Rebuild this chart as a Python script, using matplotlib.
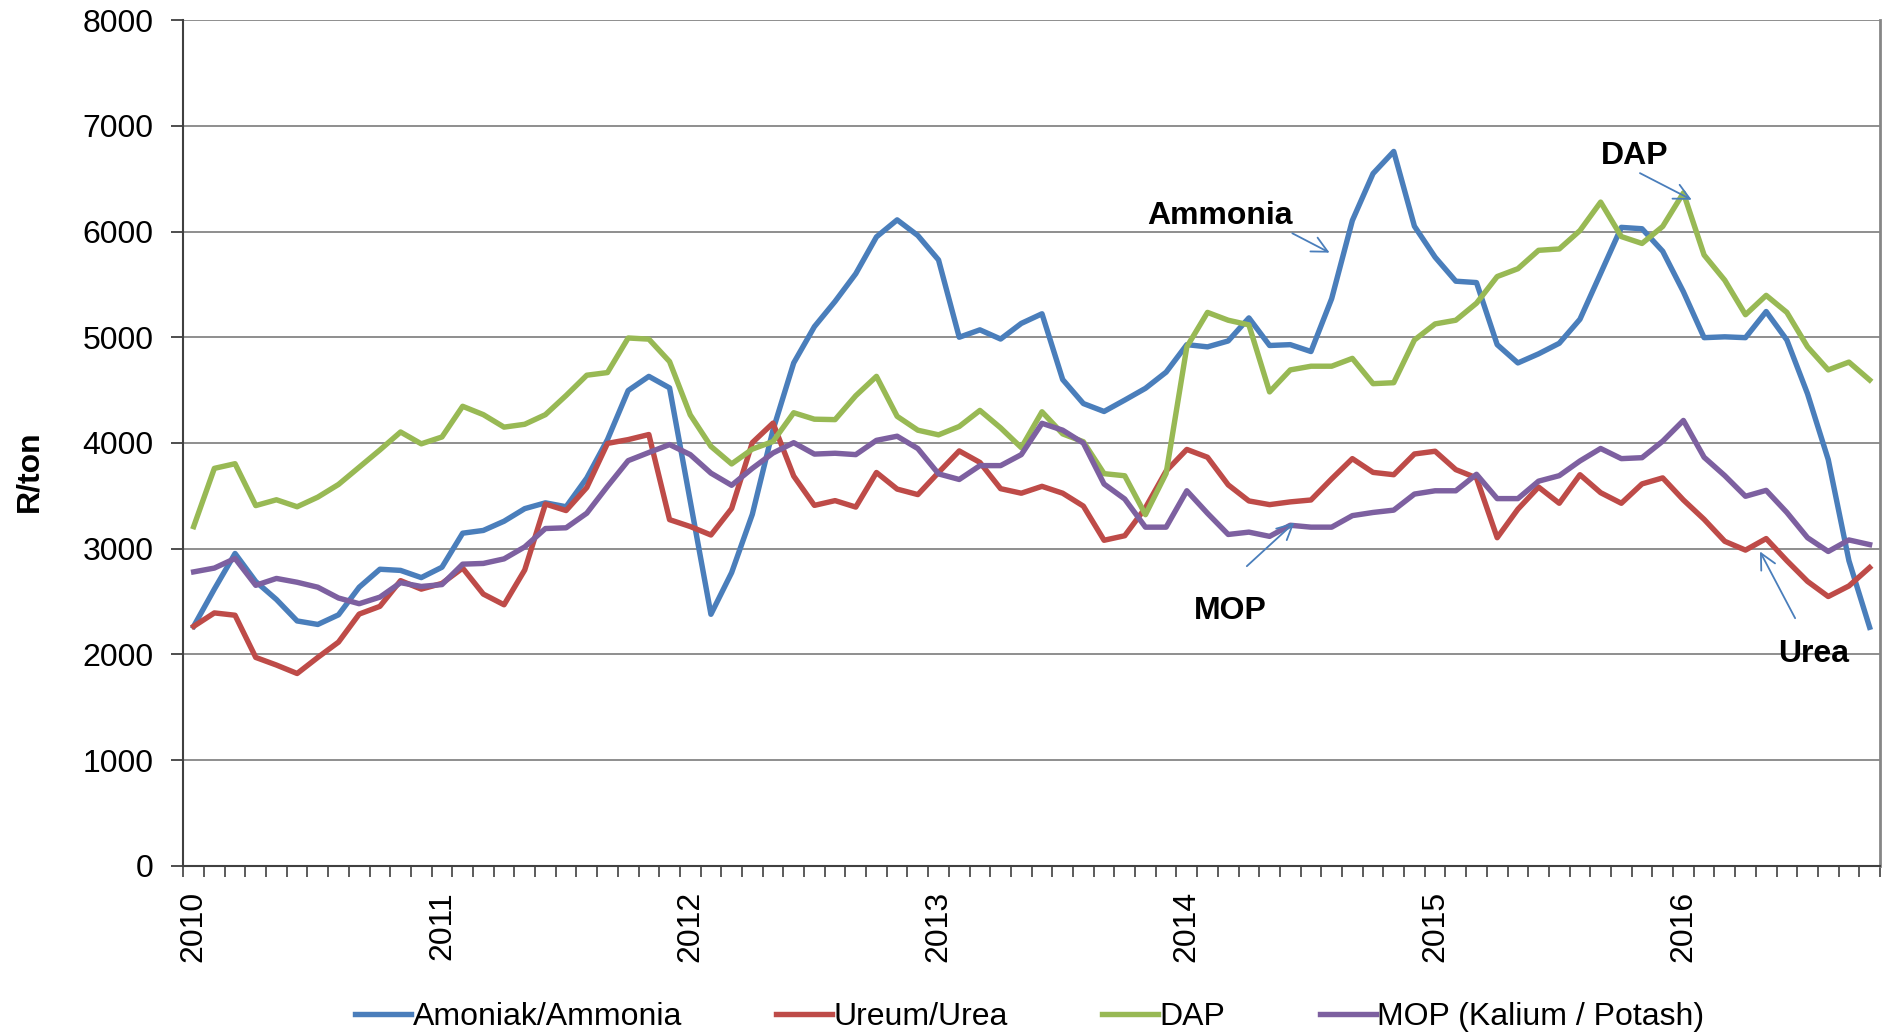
import numpy as np
import matplotlib.pyplot as plt

plt.rcParams['font.family'] = ['Liberation Sans', 'DejaVu Sans']

# monthly prices, Jan 2010 - Oct 2016 (R/ton)
ammonia = [2266, 2618, 2955, 2690, 2520, 2317, 2284, 2375, 2636, 2806, 2795, 2727,
           2825, 3147, 3173, 3260, 3379, 3434, 3397, 3669, 4032, 4496, 4630, 4521,
           3450, 2380, 2774, 3325, 4123, 4757, 5100, 5339, 5601, 5949, 6110, 5962,
           5731, 5000, 5070, 4983, 5131, 5222, 4600, 4373, 4298, 4406, 4517, 4670,
           4930, 4909, 4965, 5183, 4922, 4930, 4865, 5365, 6104, 6548, 6757, 6050,
           5757, 5530, 5517, 4930, 4757, 4843, 4943, 5170, 5604, 6039, 6026, 5813,
           5430, 4996, 5004, 4996, 5243, 4974, 4465, 3843, 2887, 2257]
urea = [2266, 2393, 2371, 1972, 1900, 1820, 1972, 2117, 2382, 2455, 2698, 2618,
        2672, 2817, 2571, 2470, 2799, 3423, 3361, 3579, 3996, 4032, 4080, 3275,
        3210, 3130, 3380, 4003, 4188, 3687, 3410, 3455, 3394, 3721, 3564, 3512,
        3721, 3925, 3816, 3568, 3525, 3590, 3525, 3403, 3080, 3123, 3387, 3735,
        3939, 3865, 3604, 3452, 3417, 3443, 3461, 3661, 3852, 3722, 3700, 3896,
        3922, 3748, 3670, 3104, 3374, 3583, 3430, 3700, 3530, 3430, 3613, 3670,
        3461, 3278, 3070, 2987, 3096, 2887, 2691, 2548, 2648, 2822]
dap = [3209, 3760, 3804, 3408, 3463, 3397, 3488, 3608, 3771, 3934, 4104, 3992,
       4057, 4347, 4268, 4150, 4177, 4268, 4449, 4641, 4666, 4993, 4982, 4770,
       4266, 3968, 3802, 3942, 4014, 4286, 4225, 4221, 4447, 4630, 4252, 4121,
       4077, 4156, 4308, 4143, 3956, 4295, 4086, 4012, 3710, 3690, 3322, 3713,
       4909, 5235, 5161, 5117, 4483, 4691, 4726, 4726, 4800, 4561, 4570, 4974,
       5126, 5161, 5322, 5574, 5648, 5822, 5835, 6009, 6278, 5952, 5887, 6048,
       6365, 5778, 5539, 5213, 5396, 5235, 4909, 4691, 4765, 4596]
mop = [2781, 2817, 2908, 2654, 2719, 2683, 2636, 2534, 2480, 2542, 2679, 2643,
       2661, 2854, 2861, 2904, 3017, 3191, 3198, 3336, 3590, 3833, 3910, 3985,
       3890, 3715, 3600, 3760, 3905, 4003, 3895, 3903, 3890, 4025, 4064, 3947,
       3708, 3655, 3786, 3786, 3890, 4186, 4121, 3999, 3612, 3470, 3204, 3204,
       3548, 3335, 3135, 3157, 3117, 3222, 3204, 3204, 3313, 3343, 3365, 3517,
       3548, 3548, 3704, 3474, 3474, 3639, 3691, 3830, 3948, 3852, 3861, 4017,
       4213, 3865, 3691, 3496, 3552, 3343, 3104, 2974, 3083, 3039]

years = ['2010', '2011', '2012', '2013', '2014', '2015', '2016']
labels = ['Amoniak/Ammonia', 'Ureum/Urea', 'DAP', 'MOP (Kalium / Potash)']
colors = ['#4a7ebb', '#be4b48', '#98b954', '#7d60a0']

# annotation: text, text pos (month idx, value), arrow tail, arrow head
notes = [('Ammonia', (49.6, 6070), (53.1, 5983), (54.9, 5800)),
         ('DAP', (69.65, 6635), (69.9, 6552), (72.4, 6300)),
         ('MOP', (50.1, 2335), (50.9, 2835), (53.2, 3248)),
         ('Urea', (78.3, 1927), (77.4, 2343), (75.7, 2974))]

n = len(ammonia)
x = np.arange(n)
fs = 23

fig = plt.figure(figsize=(18.86, 10.32), dpi=100)
ax = fig.add_axes([0.0972, 0.1609, 0.8996, 0.8197])

for series, lab, c in zip([ammonia, urea, dap, mop], labels, colors):
    ax.plot(x, series, color=c, lw=3.9, label=lab, solid_joinstyle='round', zorder=3)

ax.set_xlim(-0.5, n - 0.5)
ax.set_ylim(0, 8000)
ax.set_yticks(np.arange(0, 8001, 1000))
ax.yaxis.grid(True, color='#868686', lw=1.3)
ax.set_axisbelow(True)
ax.tick_params(axis='y', labelsize=fs, length=9, width=1.3, pad=12.3, color='#404040')

ax.set_xticks(np.arange(0, n, 12))
ax.set_xticklabels(years, rotation=90, fontsize=fs)
ax.set_xticks(np.arange(-0.5, n, 1), minor=True)
ax.tick_params(axis='x', which='major', length=0, pad=18)
ax.tick_params(axis='x', which='minor', length=8, width=1.2, color='#404040')

ax.spines['top'].set_visible(False)
ax.spines['left'].set_color('#404040')
ax.spines['left'].set_linewidth(1.5)
ax.spines['bottom'].set_color('#404040')
ax.spines['bottom'].set_linewidth(1.5)
ax.spines['right'].set_color('#868686')
ax.spines['right'].set_linewidth(2)

for txt, tpos, tail, head in notes:
    ax.text(tpos[0], tpos[1], txt, fontsize=fs, fontweight='bold', ha='center', va='baseline')
    ax.annotate('', xy=head, xytext=tail,
                arrowprops=dict(arrowstyle='->', color='#4a7ebb', lw=1.3, mutation_scale=28,
                                shrinkA=0, shrinkB=0))

fig.text(0.0154, 0.5436, 'R/ton', rotation=90, fontsize=fs, fontweight='bold', ha='center', va='center')

fig.legend(loc='center', bbox_to_anchor=(0.546, 0.0145), ncol=4, frameon=False, fontsize=fs,
           handlelength=1.75, handletextpad=0.05, columnspacing=2.95, borderpad=0)

fig.savefig('out.png', dpi=100)
